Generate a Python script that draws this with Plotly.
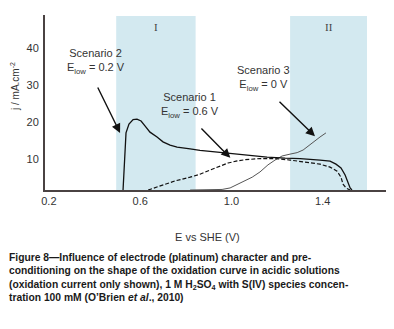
import plotly.graph_objects as go

# Scenario 2 (E_low = 0.2 V), solid
s2_E = [0.525, 0.527, 0.532, 0.538, 0.551, 0.569, 0.586, 0.604, 0.621, 0.643, 0.674, 0.700,
        0.731, 0.762, 0.819, 0.862, 0.928, 0.994, 1.081, 1.156, 1.235, 1.301, 1.388, 1.432,
        1.458, 1.480, 1.498, 1.511, 1.520, 1.528]
s2_j = [1.75, 4.4, 12.5, 17.1, 19.5, 20.7, 20.8, 20.3, 19.0, 17.3, 16.0, 14.7,
        13.8, 13.3, 12.8, 12.4, 12.0, 11.6, 11.0, 10.6, 10.3, 10.2, 9.8, 9.5,
        8.7, 7.7, 5.8, 3.6, 2.3, 1.75]

# Scenario 1 (E_low = 0.6 V), dashed
s1_E = [0.635, 0.687, 0.753, 0.819, 0.862, 0.906, 0.950, 0.985, 1.020, 1.060, 1.125, 1.191,
        1.257, 1.323, 1.388, 1.432, 1.463, 1.480, 1.489, 1.502, 1.520]
s1_j = [1.75, 2.8, 4.2, 5.2, 6.0, 7.1, 8.2, 9.0, 9.5, 9.9, 10.2, 10.2,
        9.8, 9.3, 8.7, 7.9, 6.8, 5.2, 3.3, 2.3, 1.75]

# Scenario 3 (E_low = 0 V), thin grey
s3_E = [0.819, 0.906, 0.959, 0.994, 1.051, 1.091, 1.125, 1.160, 1.191, 1.222, 1.257, 1.288,
        1.314, 1.336, 1.362, 1.388, 1.414]
s3_j = [1.75, 1.75, 1.9, 2.3, 3.9, 5.2, 6.6, 8.5, 9.8, 10.9, 11.4, 11.8,
        12.5, 13.6, 14.9, 16.0, 17.1]

x_ticks = [0.2, 0.6, 1.0, 1.4]
x_tick_text = ["0.2", "0.6", "1.0", "1.4"]
y_ticks = [10, 20, 30, 40]
bands = [(0.495, 0.843, "I"), (1.257, 1.594, "II")]

X_RANGE = [0.183, 1.686]
Y_RANGE = [1.75, 48.8]
FONT = "Liberation Sans, Arial, sans-serif"
TXT = "#333333"

# page has an 8px body margin; build the figure in page pixel terms
OFF = 8
W, H = 394 - OFF, 329 - OFF
L, T = 45 - OFF, 15 - OFF
R = W - (388 - OFF)
B = H - (190 - OFF)
PW, PH = W - L - R, H - T - B

def px_x(px):
    return (px - OFF - L) / PW

def px_y(py):
    return (H - B - (py - OFF)) / PH

fig = go.Figure()

shapes = []
for x0, x1, _ in bands:
    shapes.append(dict(type="rect", xref="x", yref="y", x0=x0, x1=x1, y0=Y_RANGE[0], y1=48.5,
                       fillcolor="#d3e9f0", line=dict(width=0), layer="below"))

fig.add_trace(go.Scatter(x=s3_E, y=s3_j, mode="lines",
                         line=dict(color="#555555", width=1), showlegend=False))
fig.add_trace(go.Scatter(x=s1_E, y=s1_j, mode="lines",
                         line=dict(color="#111111", width=1.2, dash="4px,2px"), showlegend=False))
fig.add_trace(go.Scatter(x=s2_E, y=s2_j, mode="lines",
                         line=dict(color="#111111", width=1.3), showlegend=False))

ann = []
for x0, x1, lab in bands:
    ann.append(dict(x=(x0 + x1) / 2, y=45.6, xref="x", yref="y", text=lab, showarrow=False,
                    xanchor="center", yanchor="middle",
                    font=dict(family="Liberation Serif, Times New Roman, serif", size=11, color="#444")))

def label(x, y, text):
    ann.append(dict(x=x, y=y, xref="x", yref="y", text=text, showarrow=False, align="center",
                    xanchor="center", yanchor="middle",
                    font=dict(family=FONT, size=11, color=TXT)))

label(0.406, 36.3, "Scenario 2<br>E<sub>low</sub> = 0.2 V")
label(0.820, 24.6, "Scenario 1<br>E<sub>low</sub> = 0.6 V")
label(1.140, 31.6, "Scenario 3<br>E<sub>low</sub> = 0 V")

def arrow(xs, ys, xe, ye):
    ann.append(dict(x=xe, y=ye, ax=xs, ay=ys, xref="x", yref="y", axref="x", ayref="y",
                    text="", showarrow=True, arrowhead=2, arrowsize=1.3, arrowwidth=1.4,
                    arrowcolor="#111111"))

arrow(0.411, 29.7, 0.512, 17.1)
arrow(0.862, 18.7, 0.995, 10.4)
arrow(1.204, 25.9, 1.366, 16.2)

# axis titles as annotations for exact placement
ann.append(dict(xref="paper", yref="paper", x=px_x(15), y=px_y(87), text="j / mA.cm<sup>-2</sup>",
                xanchor="center", yanchor="middle",
                textangle=-90, showarrow=False, font=dict(family=FONT, size=10, color=TXT)))
ann.append(dict(xref="paper", yref="paper", x=px_x(207), y=px_y(237), text="E vs SHE (V)",
                xanchor="center", yanchor="middle",
                showarrow=False, font=dict(family=FONT, size=11, color=TXT)))

cap = ("Figure 8\u2014Influence of electrode (platinum) character and pre-<br>"
       "conditioning on the shape of the oxidation curve in acidic solutions<br>"
       "(oxidation current only shown), 1 M H<sub>2</sub>SO<sub>4</sub> with S(IV) species concen-<br>"
       "tration 100 mM (O\u2019Brien <i>et al</i>., 2010)")
ann.append(dict(xref="paper", yref="paper", x=px_x(8), xanchor="left",
                y=px_y(251), yanchor="top", align="left", showarrow=False, borderpad=0,
                text="<b>" + cap + "</b>",
                font=dict(family=FONT, size=10.3, color="#1a1a1a")))

fig.update_layout(
    width=W, height=H,
    margin=dict(l=L, r=R, t=T, b=B),
    paper_bgcolor="white", plot_bgcolor="white",
    shapes=shapes,
    annotations=ann,
    showlegend=False,
    xaxis=dict(range=X_RANGE, tickvals=x_ticks, ticktext=x_tick_text, automargin=False,
               showgrid=False, zeroline=False, showline=True, linecolor="#4a4242", linewidth=2,
               ticks="", tickfont=dict(family=FONT, size=11, color=TXT)),
    yaxis=dict(range=Y_RANGE, tickvals=y_ticks, automargin=False, showgrid=False, zeroline=False,
               showline=True, linecolor="#4a4242", linewidth=2, ticks="", ticklabelstandoff=2,
               tickfont=dict(family=FONT, size=11, color=TXT)),
)

fig.write_html("out.html")
